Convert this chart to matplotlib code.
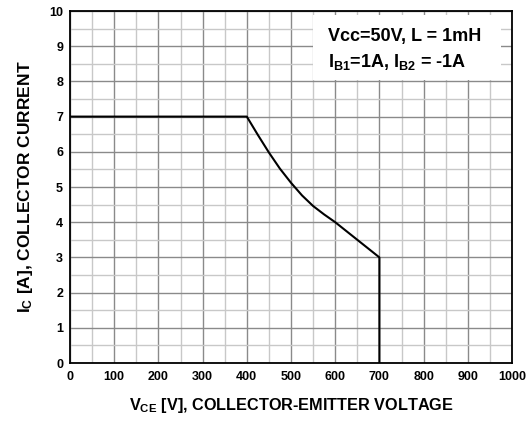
import matplotlib
matplotlib.use("Agg")
import matplotlib.pyplot as plt
from matplotlib.patches import Rectangle
from matplotlib.ticker import MultipleLocator

plt.rcParams['font.family'] = ['Liberation Sans', 'DejaVu Sans']
plt.rcParams['mathtext.fontset'] = 'custom'
plt.rcParams['mathtext.rm'] = 'Liberation Sans:bold'
plt.rcParams['mathtext.it'] = 'Liberation Sans:bold'
plt.rcParams['mathtext.bf'] = 'Liberation Sans:bold'

# Reverse-bias SOA curve
vce = [0, 400, 425, 450, 475, 500, 525, 550, 575, 600, 650, 700, 700]
ic = [7.0, 7.0, 6.48, 5.98, 5.52, 5.12, 4.76, 4.46, 4.22, 4.0, 3.5, 3.0, 0.0]

x_ticks = [0, 100, 200, 300, 400, 500, 600, 700, 800, 900, 1000]
y_ticks = [0, 1, 2, 3, 4, 5, 6, 7, 8, 9, 10]

fig = plt.figure(figsize=(5.27, 4.21), dpi=100)
ax = fig.add_axes([70/527, 1 - 363/421, 442/527, 352/421])

ax.set_xlim(0, 1000)
ax.set_ylim(0, 10)
ax.set_xticks(x_ticks)
ax.set_yticks(y_ticks)
ax.xaxis.set_minor_locator(MultipleLocator(50))
ax.yaxis.set_minor_locator(MultipleLocator(0.5))
ax.grid(which='major', color='#8a8a8a', linewidth=1.0, zorder=0)
ax.grid(which='minor', color='#c8c8c8', linewidth=1.0, zorder=0)
ax.set_axisbelow(True)
ax.tick_params(which='both', direction='in', length=0, labelsize=9)
ax.tick_params(axis='x', pad=6)
ax.tick_params(axis='y', pad=5)
for lab in ax.get_xticklabels() + ax.get_yticklabels():
    lab.set_fontweight('bold')
for s in ax.spines.values():
    s.set_linewidth(1.3)
    s.set_color('black')

ax.add_patch(Rectangle((550, 8.05), 425, 1.85, facecolor='white', edgecolor='none', zorder=1.5))
ax.text(584, 9.28, 'Vcc=50V, L = 1mH', fontsize=13, fontweight='bold', va='center', ha='left', zorder=3)
ax.text(584, 8.55, r'I$_{\mathregular{B1}}$=1A, I$_{\mathregular{B2}}$ = -1A', fontsize=13,
        fontweight='bold', va='center', ha='left', zorder=3)

ax.plot(vce, ic, color='black', linewidth=1.5, zorder=4)

ax.set_xlabel(r'V$_{\mathregular{CE}}$ [V], COLLECTOR-EMITTER VOLTAGE', fontsize=11.7, fontweight='bold', labelpad=9)
ax.set_ylabel(r'I$_{\mathregular{C}}$ [A], COLLECTOR CURRENT', fontsize=12.5, fontweight='bold', labelpad=10)

fig.savefig('out.png', dpi=100)
